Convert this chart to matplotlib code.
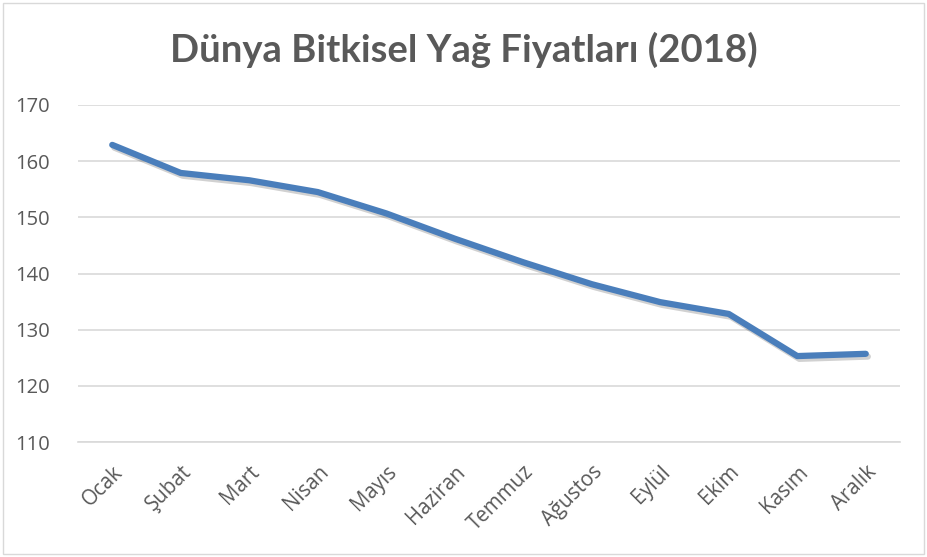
import matplotlib
matplotlib.use("Agg")
import matplotlib.pyplot as plt
import matplotlib.patheffects as pe
from matplotlib.patches import Rectangle

months = ["Ocak", "Şubat", "Mart", "Nisan", "Mayıs", "Haziran", "Temmuz",
          "Ağustos", "Eylül", "Ekim", "Kasım", "Aralık"]
prices = [162.9, 157.9, 156.6, 154.5, 150.7, 146.2, 142.0, 138.1, 134.9, 132.8, 125.3, 125.7]
yticks = [110, 120, 130, 140, 150, 160, 170]
title = "Dünya Bitkisel Yağ Fiyatları (2018)"

fig = plt.figure(figsize=(9.27, 5.57), dpi=100)
ax = fig.add_axes([78/927, (557-442)/557, (900-78)/927, (442-105)/557])

x = list(range(len(months)))
ax.plot(x, prices, color="#4a7ebb", lw=4.5, solid_capstyle="round", solid_joinstyle="round",
        path_effects=[pe.SimpleLineShadow(offset=(1.5, -2), shadow_color="#000000", alpha=0.18),
                      pe.Normal()], zorder=3)

ax.set_xlim(-0.5, len(months) - 0.5)
ax.set_ylim(110, 170)
ax.set_yticks(yticks)
ax.set_xticks(x)
ax.set_xticklabels(months, rotation=45, ha="right", va="top", rotation_mode="anchor",
                   fontsize=14.8, color="#595959", family="Open Sans")
for lab in ax.get_yticklabels():
    lab.set_fontsize(14.5)
    lab.set_color("#595959")
    lab.set_family("Open Sans")
ax.tick_params(axis="both", length=0)
ax.tick_params(axis="y", pad=20)
ax.tick_params(axis="x", pad=14)
ax.grid(axis="y", color="#d9d9d9", lw=1.2)
ax.set_axisbelow(True)
for s in ["top", "right", "left"]:
    ax.spines[s].set_visible(False)
ax.spines["bottom"].set_color("#d9d9d9")
ax.spines["bottom"].set_linewidth(1.2)

fig.text(0.5, (557-50)/557, title, ha="center", va="center", fontsize=27.5,
         fontweight="bold", color="#595959", family="Lato")

fig.patches.append(Rectangle((3/927, 3/557), 921/927, 551/557, transform=fig.transFigure,
                             fill=False, edgecolor="#d9d9d9", lw=1))

fig.savefig("out.png", dpi=100)
